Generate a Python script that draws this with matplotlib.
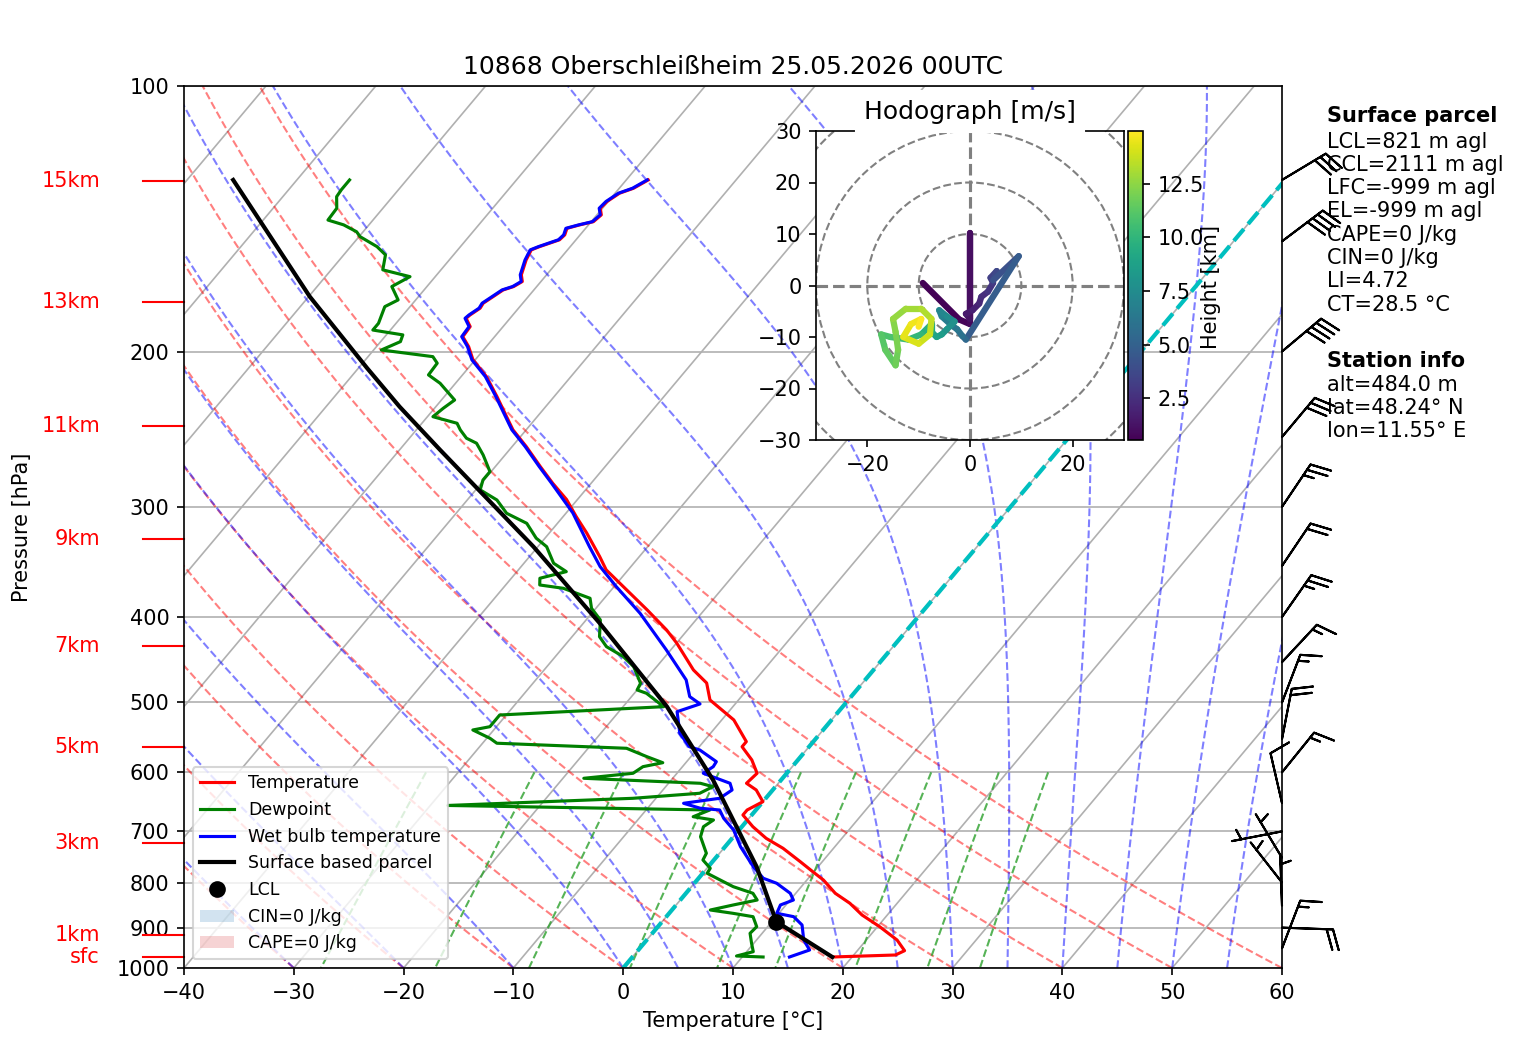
import numpy as np
import matplotlib
matplotlib.use("Agg")
import matplotlib.pyplot as plt
from matplotlib.collections import LineCollection
from matplotlib.lines import Line2D
from matplotlib.patches import Patch, Circle
from matplotlib.colors import Normalize

# ---- sounding (p in hPa, T in degC) ----
temp_p = [971.7, 966.6, 955.8, 929.5, 897.8, 870.8, 844.6, 822.8, 794.7, 777.7,
          757.7, 731.6, 712.8, 691.5, 670.7, 662.0, 647.8, 628.3, 617.4, 601.5,
          580.9, 561.2, 553.8, 523.3, 496.7, 475.2, 459.3, 428.0, 413.8, 392.7,
          372.7, 353.7, 341.7, 321.2, 307.8, 294.3, 282.1, 270.1, 256.4, 245.4,
          241.2, 225.0, 213.5, 204.4, 197.5, 192.4, 187.4, 183.4, 181.8, 178.6,
          176.3, 173.3, 170.3, 168.8, 166.6, 163.7, 157.5, 153.4, 152.1, 149.4,
          147.5, 145.0, 143.7, 142.5, 140.0, 137.6, 135.2, 132.3, 130.6, 127.8]
temp_t = [18.2, 23.8, 24.3, 22.8, 20.2, 17.7, 15.7, 13.6, 11.5, 9.9,
          8.0, 5.4, 3.1, 1.0, -0.8, -0.8, 0.0, -1.5, -2.9, -2.7,
          -4.2, -6.1, -6.1, -8.9, -12.6, -14.2, -16.4, -20.0, -21.9, -25.2,
          -28.6, -32.0, -33.6, -36.6, -38.8, -41.0, -43.5, -45.9, -48.7, -51.2,
          -52.0, -55.2, -57.7, -60.2, -61.6, -62.9, -63.0, -64.0, -63.9, -63.5,
          -63.6, -63.2, -62.8, -62.1, -61.7, -62.3, -63.0, -63.3, -62.8, -61.5,
          -61.4, -61.7, -60.8, -59.8, -59.6, -60.2, -60.1, -59.6, -58.7, -58.0]

dew_p = [971.7, 969.1, 958.3, 937.5, 913.4, 897.8, 874.6, 866.9, 859.5, 848.3,
         837.4, 822.8, 808.7, 794.7, 780.9, 770.8, 754.3, 741.2, 709.8, 691.5,
         679.5, 673.7, 662.0, 654.2, 642.1, 633.7, 622.9, 617.4, 609.4, 601.5,
         591.2, 585.1, 576.0, 563.5, 556.1, 549.0, 537.2, 532.6, 516.6, 505.5,
         488.1, 483.9, 475.5, 455.3, 443.6, 432.2, 421.1, 403.1, 391.0, 380.9,
         371.1, 367.9, 361.5, 355.3, 347.6, 332.9, 325.6, 313.2, 305.1, 294.7,
         287.0, 279.7, 273.7, 262.0, 254.1, 250.8, 245.4, 241.2, 237.1, 231.9,
         227.0, 217.3, 212.6, 206.2, 202.7, 199.2, 194.9, 191.5, 189.1, 185.8,
         177.9, 174.8, 168.8, 164.5, 161.6, 155.4, 152.1, 148.2, 146.3, 143.7,
         141.9, 137.6, 133.5, 131.1, 127.8]
dew_t = [11.9, 9.4, 10.6, 9.8, 8.9, 9.0, 7.9, 5.8, 3.5, 5.2,
         7.0, 6.1, 3.8, 2.1, 0.4, 0.3, -1.0, -1.2, -3.0, -3.5,
         -3.1, -5.2, -4.2, -28.4, -12.1, -6.4, -5.7, -7.1, -18.1, -14.0,
         -13.6, -12.1, -14.0, -16.5, -28.7, -29.7, -31.9, -30.6, -30.6, -16.3,
         -18.9, -20.0, -20.2, -22.1, -23.8, -26.1, -27.5, -28.7, -30.4, -31.3,
         -34.5, -36.9, -37.4, -35.5, -37.3, -39.2, -40.8, -42.8, -45.4, -47.3,
         -49.6, -50.1, -50.1, -52.0, -53.5, -54.8, -56.0, -56.8, -59.5, -59.2,
         -58.8, -61.4, -63.1, -63.2, -64.1, -69.3, -68.2, -68.5, -71.6, -71.6,
         -72.3, -71.6, -73.2, -72.3, -75.3, -76.2, -77.6, -79.9, -80.6, -82.3,
         -84.1, -84.2, -85.1, -85.2, -85.2]

wb_p = [971.7, 954.1, 929.5, 893.8, 874.6, 866.9, 848.3, 837.4, 822.8, 801.6,
        791.2, 767.6, 728.5, 697.5, 676.5, 662.0, 659.0, 650.5, 642.1, 628.3,
        617.4, 601.5, 591.2, 583.5, 566.0, 561.2, 541.8, 512.1, 501.9, 492.4,
        471.4, 435.9, 396.1, 369.5, 350.7, 332.9, 304.8, 282.1, 270.1, 256.4,
        245.4, 241.2, 225.0, 213.5, 204.4, 197.5, 192.4, 187.4, 183.4, 181.8,
        178.6, 176.3, 173.3, 170.3, 168.8, 166.6, 163.7, 157.5, 153.4, 152.1,
        149.4, 147.5, 145.0, 143.7, 142.5, 140.0, 137.6, 135.2, 132.3, 130.6, 127.8]
wb_t = [14.3, 15.6, 14.3, 13.0, 11.6, 9.8, 9.5, 10.3, 9.5, 7.5,
        5.9, 4.1, 1.4, -0.5, -2.3, -3.3, -5.2, -7.1, -4.2, -3.7,
        -4.4, -7.6, -7.2, -7.3, -9.7, -10.9, -12.8, -14.7, -13.2, -14.7,
        -16.3, -20.4, -25.6, -29.8, -32.8, -35.3, -39.4, -43.6, -46.0, -48.8,
        -51.3, -52.1, -55.3, -57.8, -60.3, -61.7, -63.0, -63.1, -64.1, -64.0,
        -63.6, -63.7, -63.3, -62.9, -62.2, -61.8, -62.4, -63.1, -63.4, -62.9,
        -61.6, -61.5, -61.8, -60.9, -59.9, -59.7, -60.3, -60.2, -59.7, -58.8, -58.1]

parcel_p = [971.7, 886.1, 767.6, 612.1, 505.5, 406.6, 332.9, 258.6, 231.0, 208.9,
            173.3, 127.8]
parcel_t = [18.2, 10.4, 4.4, -6.2, -16.0, -28.5, -40.4, -56.3, -63.3, -69.2,
            -79.9, -95.8]
lcl_p, lcl_t = 886.1, 10.4

height_labels = ["sfc", "1km", "3km", "5km", "7km", "9km", "11km", "13km", "15km"]
height_p = [972.5, 918.2, 722.1, 562.0, 431.4, 326.3, 243.0, 175.9, 128.1]

# wind barbs (direction from, speed in kt)
barb_p = [950, 900, 850, 800, 750, 700, 650, 600, 550, 500, 450, 400, 350, 300, 250, 200, 150, 127.8]
barb_dir = [21, 92, 358, 322, 329, 259, 347, 39, 11, 21, 43, 35, 34, 34, 40, 50, 53, 59]
barb_kt = [15, 20, 5, 5, 5, 5, 10, 15, 20, 15, 15, 25, 20, 25, 30, 40, 40, 30]

# hodograph (m/s) coloured by height (km)
hodo_z = [0.55, 0.7, 0.85, 1.0, 1.15, 1.4, 1.7, 2.0, 2.3, 2.6, 2.9, 3.2, 3.5, 3.8, 4.4,
          5.1, 5.8, 6.1, 6.4, 6.7, 7.0, 7.3, 7.6, 7.9, 8.3, 8.7, 9.1, 9.5, 9.9, 10.3,
          10.7, 11.0, 11.3, 11.6, 11.9, 12.2, 12.5, 12.8, 13.1, 13.4, 13.7, 14.0, 14.3,
          14.5, 14.8, 15.0]
hodo_u = [-9.2, -2.1, 0.0, 0.0, 0.0, -0.8, 0.5, 1.8, 2.2, 3.5, 4.5, 4.0, 5.2, 4.5, 9.5,
          -0.8, -1.5, -2.5, -3.5, -5.5, -6.0, -4.5, -3.0, -4.5, -5.5, -6.5, -7.5, -7.5,
          -9.5, -12.0, -15.5, -17.3, -16.5, -14.5, -14.0, -14.5, -15.0, -12.5, -9.5,
          -7.5, -7.8, -10.0, -13.0, -11.5, -9.5, -10.0]
hodo_v = [0.5, -6.6, -7.5, 10.2, -6.5, -5.5, -4.8, -3.5, -2.2, -1.2, 0.5, 1.5, 2.8, 1.0, 5.7,
          -10.5, -9.8, -8.5, -7.8, -6.0, -4.8, -6.0, -7.0, -8.5, -9.5, -10.0, -9.0, -7.5,
          -9.5, -10.5, -10.0, -9.5, -12.5, -15.5, -12.5, -9.0, -6.5, -4.5, -4.5, -6.5,
          -9.5, -11.3, -10.0, -7.5, -6.5, -8.0]

parcel_info = ["LCL=821 m agl", "CCL=2111 m agl", "LFC=-999 m agl", "EL=-999 m agl",
               "CAPE=0 J/kg", "CIN=0 J/kg", "LI=4.72", "CT=28.5 °C"]
station_info = ["alt=484.0 m", "lat=48.24° N", "lon=11.55° E"]

SKEW = 29.3  # degC of shift per unit ln(1000/p)


def skewed(t, p):
    return np.asarray(t, float) + SKEW * np.log(1000.0 / np.asarray(p, float))


def moist_curve(t0, pres):
    Rd, Cp, Lv, eps = 287.04749, 1004.6662, 2.50084e6, 0.6219569

    def dtdp(T, p):
        es = 6.112 * np.exp(17.67 * (T - 273.15) / (T - 29.65))
        rs = eps * es / (p - es)
        return (Rd * T + Lv * rs) / (Cp + Lv * Lv * rs * eps / (Rd * T * T)) / p

    T = t0 + 273.15
    out = [T]
    for i in range(1, len(pres)):
        p0, h = pres[i - 1], pres[i] - pres[i - 1]
        k1 = dtdp(T, p0)
        k2 = dtdp(T + h / 2 * k1, p0 + h / 2)
        k3 = dtdp(T + h / 2 * k2, p0 + h / 2)
        k4 = dtdp(T + h * k3, p0 + h)
        T = T + h / 6 * (k1 + 2 * k2 + 2 * k3 + k4)
        out.append(T)
    return np.array(out) - 273.15


W, H = 1517, 1054
fig = plt.figure(figsize=(W / 150, H / 150), dpi=150)
ax = fig.add_axes([184 / W, 86 / H, 1098 / W, 882 / H])
ax.set_yscale("log")

pp = np.linspace(1000, 100, 181)

for t in range(-110, 61, 10):
    ax.plot(skewed(np.full_like(pp, t), pp), pp, color="#b0b0b0", lw=0.8, zorder=1)
for p in range(100, 1001, 100):
    ax.axhline(p, color="#b0b0b0", lw=0.8, zorder=1)

for t0 in range(-40, 61, 10):
    tt = (t0 + 273.15) * (pp / 1000.0) ** 0.2857 - 273.15
    ax.plot(skewed(tt, pp), pp, color="r", ls="--", lw=1, alpha=0.5, zorder=1.5)

for t0 in list(range(-40, 0, 10)) + list(range(0, 61, 5)):
    ax.plot(skewed(moist_curve(float(t0), pp), pp), pp, color="b", ls="--", lw=1,
            alpha=0.5, zorder=1.5)

pm = np.linspace(600, 1000, 50)
for w in [0.0004, 0.001, 0.002, 0.004, 0.007, 0.01, 0.016, 0.024, 0.032]:
    e = pm * w / (0.6219569 + w)
    lg = np.log(e / 6.112)
    td = 243.5 * lg / (17.67 - lg)
    ax.plot(skewed(td, pm), pm, color="tab:green", ls="--", lw=1, alpha=0.8, zorder=1.5)

ax.plot(skewed(np.zeros_like(pp), pp), pp, color="c", ls="--", lw=2, zorder=2)

ax.plot(skewed(temp_t, temp_p), temp_p, color="r", lw=1.5, zorder=3)
ax.plot(skewed(dew_t, dew_p), dew_p, color="g", lw=1.5, zorder=3)
ax.plot(skewed(wb_t, wb_p), wb_p, color="b", lw=1.5, zorder=3)
ax.plot(skewed(parcel_t, parcel_p), parcel_p, color="k", lw=2, zorder=4)
ax.plot(skewed([lcl_t], [lcl_p]), [lcl_p], "ko", ms=7, zorder=5)

ax.set_xlim(-40, 60)
ax.set_ylim(1000, 100)
ax.set_xticks(range(-40, 61, 10))
ax.set_yticks(range(100, 1001, 100))
ax.set_yticklabels([str(v) for v in range(100, 1001, 100)])
ax.yaxis.set_minor_locator(matplotlib.ticker.NullLocator())
ax.set_xlabel("Temperature [°C]")
fig.text(22 / W, 1 - 527 / H, "Pressure [hPa]", rotation=90, ha="center", va="center")
ax.set_title("10868 Oberschleißheim 25.05.2026 00UTC", fontsize=12)

handles = [Line2D([], [], color="r", lw=1.5, label="Temperature"),
           Line2D([], [], color="g", lw=1.5, label="Dewpoint"),
           Line2D([], [], color="b", lw=1.5, label="Wet bulb temperature"),
           Line2D([], [], color="k", lw=2, label="Surface based parcel"),
           Line2D([], [], color="k", marker="o", ls="none", ms=7, label="LCL"),
           Patch(facecolor="tab:blue", alpha=0.2, label="CIN=0 J/kg"),
           Patch(facecolor="tab:red", alpha=0.2, label="CAPE=0 J/kg")]
ax.legend(handles=handles, loc="lower left", fontsize="small")

ytr = ax.get_yaxis_transform()
for lab, p in zip(height_labels, height_p):
    ax.plot([-0.0371, 0], [p, p], color="r", lw=1, transform=ytr, clip_on=False)
    ax.text(-0.0765, p, lab, color="r", ha="right", va="center", transform=ytr)

ang = np.deg2rad(barb_dir)
bu = -np.asarray(barb_kt, float) * np.sin(ang)
bv = -np.asarray(barb_kt, float) * np.cos(ang)
ax.barbs(np.ones(len(barb_p)), barb_p, bu, bv, transform=ytr, clip_on=False,
         length=7, lw=1, zorder=6)

fig.text(1327 / W, 1 - 121.5 / H, "Surface parcel", fontweight="bold", va="baseline")
for i, s in enumerate(parcel_info):
    fig.text(1327 / W, 1 - (147.5 + 23.3 * i) / H, s, va="baseline")
fig.text(1327 / W, 1 - 367 / H, "Station info", fontweight="bold", va="baseline")
for i, s in enumerate(station_info):
    fig.text(1327 / W, 1 - (390.8 + 23.3 * i) / H, s, va="baseline")

# hodograph inset
axh = fig.add_axes([816 / W, (H - 440) / H, 308 / W, 309 / H])
axh.set_xlim(-30, 30)
axh.set_ylim(-30, 30)
for r in (10, 20, 30, 40):
    axh.add_patch(Circle((0, 0), r, fill=False, ls="--", ec="grey", lw=1))
axh.axhline(0, color="grey", ls="--", lw=1.5)
axh.axvline(0, color="grey", ls="--", lw=1.5)
pts = np.column_stack([hodo_u, hodo_v]).reshape(-1, 1, 2)
segs = np.concatenate([pts[:-1], pts[1:]], axis=1)
zmid = (np.asarray(hodo_z[:-1]) + np.asarray(hodo_z[1:])) / 2
lc = LineCollection(segs, cmap="viridis", norm=Normalize(0.55, 14.95), lw=3,
                    capstyle="round", joinstyle="round")
lc.set_array(zmid)
axh.add_collection(lc)
axh.set_xticks([-20, 0, 20])
axh.set_yticks(range(-30, 31, 10))
axh.set_title("Hodograph [m/s]", fontsize=12,
              bbox=dict(facecolor="white", edgecolor="white", pad=4))

cax = fig.add_axes([1128 / W, (H - 440) / H, 15 / W, 309 / H])
fig.colorbar(lc, cax=cax)
fig.text(1211 / W, 1 - 287 / H, "Height [km]", rotation=90, ha="center", va="center")

fig.savefig("out.png", dpi=150)
print("Saved out.png")
